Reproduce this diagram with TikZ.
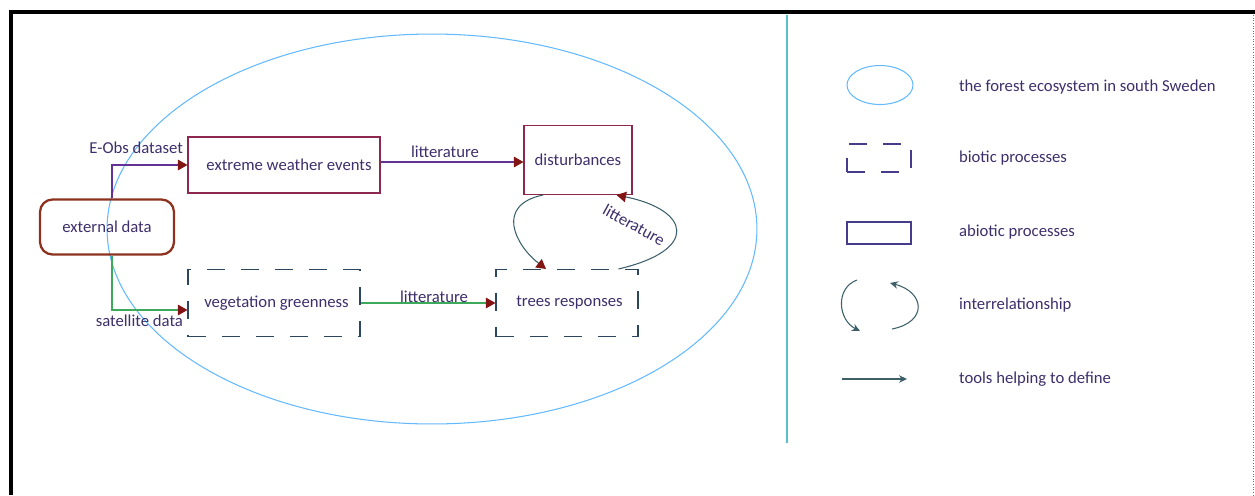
\documentclass[tikz,border=0pt]{standalone}
\usepackage{fontspec}
\setmainfont{Carlito}
\usetikzlibrary{%
	arrows.meta,%
	shapes.geometric,%
	positioning
}

\definecolor{txtcol}{RGB}{61,47,107}
\definecolor{boxred}{RGB}{140,40,80}
\definecolor{extred}{RGB}{140,50,30}
\definecolor{skyline}{RGB}{100,185,255}
\definecolor{purpleline}{RGB}{100,50,150}
\definecolor{greenline}{RGB}{60,170,90}
\definecolor{curvecol}{RGB}{60,95,105}
\definecolor{tipred}{RGB}{130,20,20}
\definecolor{dashcol}{RGB}{45,70,95}
\definecolor{dividercol}{RGB}{90,190,200}
\definecolor{legcol}{RGB}{70,60,140}

\tikzset{
	lbl/.style={text=txtcol, font=\fontsize{9.5}{11}\selectfont, inner sep=1pt},
	abiotic/.style={lbl, draw=boxred, line width=0.6pt, rectangle},
	biotic/.style={lbl, draw=dashcol, line width=0.6pt, rectangle,
		dash pattern=on 0.36cm off 0.32cm},
	extbox/.style={lbl, draw=extred, line width=1.3pt, rounded corners=0.25cm},
	tool/.style={-{Triangle[length=1.9mm, width=2.1mm, color=tipred]}, line width=0.6pt},
	relarrow/.style={-{Triangle[length=1.9mm, width=2.1mm, color=tipred]}, curvecol, line width=0.6pt},
	legarrow/.style={-{Stealth[length=1.6mm, width=1.5mm]}, curvecol, line width=0.6pt}
}

\begin{document}
\begin{tikzpicture}[x=0.02cm, y=-0.02cm]
	\useasboundingbox (0,0) rectangle (1255,495);
	
	% frame and divider
	\draw[line width=2.3pt] (11,495) -- (11,12) -- (1255,12);
	\draw[blue!60, densely dotted, line width=0.5pt] (1253,15) -- (1253,495);
	\draw[dividercol, line width=0.6pt] (787,15) -- (787,443);
	
	% the forest ecosystem
	\node[draw=skyline, line width=0.6pt, ellipse, minimum width=13cm, minimum height=7.8cm] (eco) at (432,229) {};
	
	% processes
	\node[extbox, minimum width=2.68cm, minimum height=1.1cm] (ext) at (107,227) {external data};
	\node[abiotic, minimum width=3.84cm, minimum height=1.12cm] (weather) at (284,165) {\hspace{0.2cm}extreme weather events};
	\node[abiotic, minimum width=2.16cm, minimum height=1.38cm] (dist) at (578,160) {disturbances};
	\node[biotic, minimum width=3.44cm, minimum height=1.34cm] (veg) at (274,303) {\hspace{0.1cm}vegetation greenness};
	\node[biotic, minimum width=2.84cm, minimum height=1.34cm] (trees) at (567,303) {\hspace{0.1cm}trees responses};
	
	% data sources
	\draw[tool, purpleline] ([xshift=0.1cm]ext.north) |- (weather.west);
	\draw[tool, greenline] ([xshift=0.1cm]ext.south) |- ([yshift=-0.14cm]veg.west);
	\node[lbl, anchor=east] (eobs) at (185,148) {E-Obs dataset};
	\node[lbl, anchor=east] (sat) at (185,321) {satellite data};
	
	% litterature links
	\draw[tool, purpleline] ([yshift=0.06cm]weather.east) -- ([yshift=0.06cm]weather.east -| dist.west);
	\node[lbl] (lit1) at (445,152) {litterature};
	\draw[tool, greenline] (veg.east) -- (trees.west);
	\node[lbl] (lit2) at (434,297) {litterature};
	
	% interrelationship
	\draw[relarrow] ([xshift=-0.7cm]dist.south) .. controls (495,205) and (515,245) .. ([xshift=-0.42cm]trees.north);
	\draw[relarrow] ([xshift=-0.4cm]trees.north east) .. controls (700,250) and (690,210) .. ([xshift=-0.32cm]dist.south east);
	\node[lbl, rotate=-29] (lit3) at (634,225) {litterature};
	
	% legend
	\node[draw=skyline, line width=0.6pt, ellipse, minimum width=1.32cm, minimum height=0.78cm] (legeco) at (880,85) {};
	\node[lbl, anchor=west] (legecot) at (957,87) {the forest ecosystem in south Sweden};
	\node[biotic, draw=legcol, minimum width=1.28cm, minimum height=0.56cm] (legbio) at (879,158) {};
	\node[lbl, anchor=west] (legbiot) at (957,158) {biotic processes};
	\node[abiotic, draw=legcol, minimum width=1.28cm, minimum height=0.44cm] (legabio) at (879,233) {};
	\node[lbl, anchor=west] (legabiot) at (957,232) {abiotic processes};
	
	\coordinate (relA) at (857,280);
	\coordinate (relB) at (860,331);
	\coordinate (relC) at (892,329);
	\coordinate (relD) at (890,283);
	\draw[legarrow] (relA) .. controls (835,288) and (838,320) .. (relB);
	\draw[legarrow] (relC) .. controls (928,322) and (925,292) .. (relD);
	\node[lbl, anchor=west] (legrelt) at (957,305) {interrelationship};
	
	\coordinate (toolA) at (842,379);
	\coordinate (toolB) at (907,379);
	\draw[legarrow] (toolA) -- (toolB);
	\node[lbl, anchor=west] (legtoolt) at (957,379) {tools helping to define};
\end{tikzpicture}
\end{document}
